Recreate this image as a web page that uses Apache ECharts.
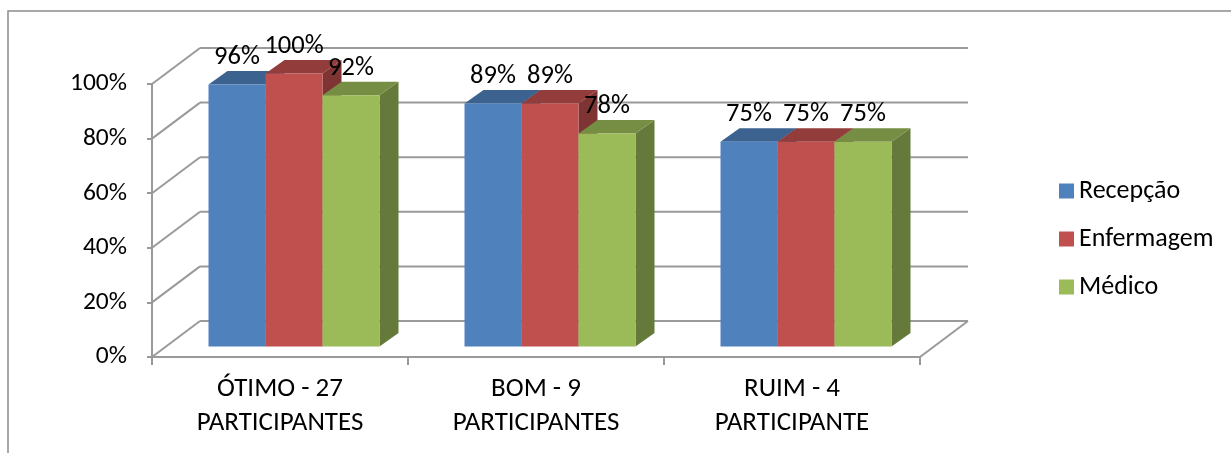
<!DOCTYPE html>
<html>
<head>
<meta charset="utf-8">
<script src="https://cdn.jsdelivr.net/npm/echarts@6/dist/echarts.min.js"></script>
<style>html,body{margin:0;padding:0;background:#fff;}#c{width:1231px;height:453px;}</style>
</head>
<body>
<div id="c"></div>
<script>
const categories = ['ÓTIMO - 27\nPARTICIPANTES', 'BOM - 9\nPARTICIPANTES', 'RUIM - 4\nPARTICIPANTE'];
const seriesNames = ['Recepção', 'Enfermagem', 'Médico'];
const recepcao = [96, 89, 75];
const enfermagem = [100, 89, 75];
const medico = [92, 78, 75];
const yTicks = [0, 20, 40, 60, 80, 100];

const FONT = 'Carlito, Calibri, Lato, sans-serif';
const colors = ['#4F81BD', '#C0504D', '#9BBB59'];
function shade(hex, f) {
  const n = parseInt(hex.slice(1), 16);
  const r = Math.round(((n >> 16) & 255) * f), g = Math.round(((n >> 8) & 255) * f), b = Math.round((n & 255) * f);
  return 'rgb(' + r + ',' + g + ',' + b + ')';
}
// 3D projection offsets (style)
const WALL_DX = 48, WALL_DY = 36;
const FRONT_DX = 14, FRONT_DY = 10.5;
const DEPTH_DX = 19, DEPTH_DY = 13.5;
const BAR_FRAC = 57 / 256;
const GRID_COLOR = '#9A9A9A';

function barSeries(name, values, idx) {
  return {
    type: 'custom',
    name: name,
    itemStyle: { color: colors[idx] },
    data: values.map((v, i) => [i, v]),
    encode: { x: 0, y: 1 },
    renderItem: function (params, api) {
      const cat = api.value(0), val = api.value(1);
      const top = api.coord([cat, val]);
      const base = api.coord([cat, 0]);
      const band = api.size([1, 0])[0];
      const bw = band * BAR_FRAC;
      const x = top[0] + FRONT_DX + (idx - 1) * bw - bw / 2;
      const yT = top[1] - FRONT_DY, yB = base[1] - FRONT_DY;
      const c = colors[idx];
      return {
        type: 'group',
        children: [
          { type: 'polygon', shape: { points: [[x + bw, yT], [x + bw + DEPTH_DX, yT - DEPTH_DY], [x + bw + DEPTH_DX, yB - DEPTH_DY], [x + bw, yB]] }, style: { fill: shade(c, 0.65) } },
          { type: 'polygon', shape: { points: [[x, yT], [x + DEPTH_DX, yT - DEPTH_DY], [x + bw + DEPTH_DX, yT - DEPTH_DY], [x + bw, yT]] }, style: { fill: shade(c, 0.76) } },
          { type: 'rect', shape: { x: x, y: yT, width: bw, height: yB - yT }, style: { fill: c } },
          { type: 'text', z2: 100, style: { text: val + '%', x: x + bw / 2, y: yT - 27, align: 'center', verticalAlign: 'middle', fill: '#000', fontSize: 26.5, fontFamily: FONT } }
        ]
      };
    }
  };
}

const wallSeries = {
  type: 'custom',
  name: 'walls',
  silent: true,
  z: 1,
  data: yTicks.map(v => [0, v]),
  encode: { x: 0, y: 1 },
  renderItem: function (params, api) {
    const cs = params.coordSys;
    const v = api.value(1);
    const y = api.coord([0, v])[1];
    const x0 = cs.x, x1 = cs.x + cs.width;
    const st = { stroke: GRID_COLOR, lineWidth: 2, fill: null };
    const ch = [
      { type: 'line', shape: { x1: x0, y1: y, x2: x0 + WALL_DX, y2: y - WALL_DY }, style: st },
      { type: 'line', shape: { x1: x0 + WALL_DX, y1: y - WALL_DY, x2: x1 + WALL_DX, y2: y - WALL_DY }, style: st }
    ];
    if (v === 0) {
      ch.push({ type: 'line', shape: { x1: x1, y1: y, x2: x1 + WALL_DX, y2: y - WALL_DY }, style: st });
    }
    return { type: 'group', children: ch };
  }
};

const chart = echarts.init(document.getElementById('c'), null, { renderer: 'canvas' });
chart.setOption({
  animation: false,
  backgroundColor: '#fff',
  graphic: [{ type: 'rect', shape: { x: 8, y: 11, width: 1300, height: 500 }, style: { fill: null, stroke: '#8C8C8C', lineWidth: 1.5 }, silent: true, z: 0 }],
  grid: { left: 152, top: 84, width: 768, height: 273 },
  legend: {
    orient: 'vertical', left: 1054, top: 172,
    itemWidth: 15, itemHeight: 15, itemGap: 20,
    icon: 'rect',
    data: seriesNames,
    textStyle: { fontFamily: FONT, fontSize: 26, lineHeight: 28, color: '#000' }
  },
  xAxis: {
    type: 'category', data: categories,
    axisLine: { show: true, lineStyle: { color: GRID_COLOR, width: 2 } },
    axisTick: { show: true, length: 8, lineStyle: { color: GRID_COLOR, width: 2 } },
    axisLabel: { margin: 15, fontFamily: FONT, fontSize: 27, lineHeight: 34, color: '#000', interval: 0 },
    splitLine: { show: false }
  },
  yAxis: {
    type: 'value', min: 0, max: 100, interval: 20,
    axisLine: { show: true, lineStyle: { color: GRID_COLOR, width: 2 } },
    axisTick: { show: true, length: 5, lineStyle: { color: GRID_COLOR, width: 2 } },
    axisLabel: { margin: 25, formatter: '{value}%', fontFamily: FONT, fontSize: 25.5, color: '#000' },
    splitLine: { show: false }
  },
  series: [wallSeries,
    barSeries(seriesNames[0], recepcao, 0),
    barSeries(seriesNames[1], enfermagem, 1),
    barSeries(seriesNames[2], medico, 2)]
});
</script>
</body>
</html>
